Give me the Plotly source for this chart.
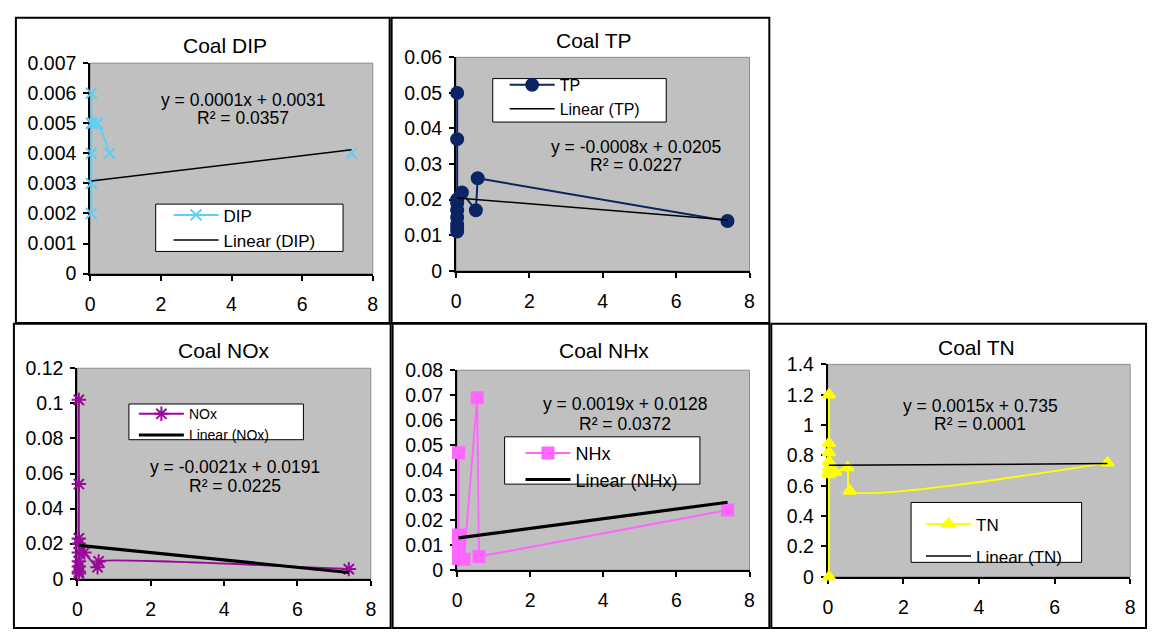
import plotly.graph_objects as go

# ---- data -------------------------------------------------------------
dip_x = [0.03, 0.03, 0.03, 0.03, 0.03, 0.07, 0.2, 0.55, None, 7.4]
dip_y = [0.006, 0.005, 0.004, 0.003, 0.002, 0.005, 0.005, 0.004, None, 0.004]

tp_x = [0.03, 0.03, 0.03, 0.03, 0.03, 0.03, 0.03, 0.03, 0.03, 0.03, 0.16, 0.54, 0.59, 7.4]
tp_y = [0.05, 0.037, 0.02, 0.019, 0.017, 0.015, 0.013, 0.012, 0.011, 0.02, 0.022, 0.017, 0.026, 0.014]

nox_x = [0.04, 0.04, 0.04, 0.04, 0.04, 0.04, 0.04, 0.04, 0.04, 0.19, 0.55, 0.58, 7.4]
nox_y = [0.102, 0.054, 0.003, 0.004, 0.007, 0.01, 0.015, 0.02, 0.023, 0.015, 0.0066, 0.0099, 0.0055]

nhx_x = [0.04, 0.04, 0.04, 0.04, 0.04, 0.04, 0.19, 0.55, 0.6, 7.4]
nhx_y = [0.047, 0.014, 0.011, 0.0085, 0.0066, 0.0046, 0.0043, 0.069, 0.0054, 0.024]

tn_x = [0.03, 0.03, 0.03, 0.03, 0.03, 0.03, 0.03, 0.03, 0.2, 0.52, 0.58, 7.4]
tn_y = [0, 1.2, 0.88, 0.82, 0.76, 0.72, 0.69, 0.675, 0.69, 0.72, 0.566, 0.751]

# linear trend coefficients (slope, intercept) and R²
trend_slope = [0.00014, -0.00084, -0.0021, 0.00194, 0.0015]
trend_intercept = [0.00308, 0.0205, 0.0191, 0.0128, 0.735]
trend_r2 = [0.0357, 0.0227, 0.0225, 0.0372, 0.0001]

series_names = ["DIP", "TP", "NOx", "NHx", "TN"]
y_max = [0.007, 0.06, 0.12, 0.08, 1.4]
y_step = [0.001, 0.01, 0.02, 0.01, 0.2]

# ---- page geometry (pixels) -------------------------------------------
W, H = 1156, 639
FONT = "Liberation Sans, Arial, sans-serif"


def fx(p):
    return p / W


def fy(p):
    return 1 - p / H


panels = [
    dict(frame=(11, 7, 388, 323), plot=(86, 54, 371, 272), title=(222, 36),
         eq=(240, 92, 111), legend_box=(152, 200, 341, 249), leg_pos=(165, 193),
         leg_font=17, leg_gap=0, smoothing=0.6,
         color="#5CCFF5", symbol="x-thin-open", msize=11, trend_w=1.5, smooth=True),
    dict(frame=(390, 7, 771, 323), plot=(455, 48, 751, 269), title=(594, 31),
         eq=(637, 141, 159), legend_box=(492, 70, 667, 115), leg_pos=(504, 59),
         leg_font=16, leg_gap=0, smoothing=0,
         color="#0B2463", symbol="circle", msize=12, trend_w=1.5, smooth=False),
    dict(frame=(9, 324, 389, 639), plot=(73, 370, 369, 588), title=(221, 352),
         eq=(232, 472, 492), legend_box=(125, 407, 301, 444), leg_pos=(130, 401),
         leg_font=14, leg_gap=0, smoothing=0.35,
         color="#9A0A9A", symbol="asterisk-open", msize=12, trend_w=3.2, smooth=True),
    dict(frame=(391, 324, 771, 639), plot=(456, 372, 751, 579), title=(604, 352),
         eq=(625, 407, 428), legend_box=(504, 441, 701, 490), leg_pos=(520, 439),
         leg_font=18, leg_gap=0, smoothing=0,
         color="#FF66FF", symbol="square", msize=11, trend_w=3.2, smooth=False),
    dict(frame=(773, 324, 1151, 639), plot=(830, 366, 1135, 586), title=(980, 349),
         eq=(984, 409, 428), legend_box=(914, 509, 1086, 571), leg_pos=(924, 513),
         leg_font=17, leg_gap=7, smoothing=0.6,
         color="#FFFF00", symbol="triangle-up", msize=11, trend_w=1.5, smooth=True),
]

series_x = [dip_x, tp_x, nox_x, nhx_x, tn_x]
series_y = [dip_y, tp_y, nox_y, nhx_y, tn_y]


def fmt(v):
    s = f"{abs(v):.4f}".rstrip("0").rstrip(".")
    return ("-" if v < 0 else "") + s


fig = go.Figure()
shapes = []
annotations = []
layout = {}

for i, (p, name) in enumerate(zip(panels, series_names)):
    k = "" if i == 0 else str(i + 1)
    xa, ya = f"x{k}", f"y{k}"
    leg = "legend" if i == 0 else f"legend{i + 1}"
    xs, ys = series_x[i], series_y[i]

    fig.add_trace(go.Scatter(
        x=xs, y=ys, name=name, mode="lines+markers", xaxis=xa, yaxis=ya,
        legend=leg, legendgroup=f"{name}-data", cliponaxis=False,
        connectgaps=False,
        line=dict(color=p["color"], width=2,
                  shape="spline" if p["smooth"] else "linear",
                  smoothing=p["smoothing"] if p["smooth"] else 1),
        marker=dict(symbol=p["symbol"], size=p["msize"], color=p["color"],
                    line=dict(color=p["color"], width=2)),
    ))

    valid_x = [v for v in xs if v is not None]
    x0, x1 = min(valid_x), max(valid_x)
    m, b = trend_slope[i], trend_intercept[i]
    fig.add_trace(go.Scatter(
        x=[x0, x1], y=[m * x0 + b, m * x1 + b], name=f"Linear ({name})",
        mode="lines", xaxis=xa, yaxis=ya, legend=leg,
        legendgroup=f"{name}-fit", cliponaxis=False,
        line=dict(color="black", width=p["trend_w"]),
    ))

    l, t, r, btm = p["plot"]
    axis_common = dict(showgrid=False, zeroline=False, showline=True,
                       linecolor="black", linewidth=2, ticks="outside",
                       ticklen=5, tickwidth=1.5, tickcolor="black",
                       tickfont=dict(family=FONT, size=19.5, color="black"),
                       layer="below traces", fixedrange=True)
    layout[f"xaxis{k}"] = dict(axis_common, domain=[fx(l), fx(r)], range=[0, 8],
                               dtick=2, tick0=0, anchor=ya, ticklabelstandoff=7)
    layout[f"yaxis{k}"] = dict(axis_common, domain=[fy(btm), fy(t)],
                               range=[0, y_max[i]], dtick=y_step[i], tick0=0,
                               anchor=xa, ticklabelstandoff=3)

    # grey plot-area outline
    shapes.append(dict(type="rect", xref="paper", yref="paper", layer="below",
                       x0=fx(l), x1=fx(r), y0=fy(btm), y1=fy(t),
                       line=dict(color="#8C8C8C", width=1)))
    # chart frame
    fl, ft, fr, fb = p["frame"]
    shapes.append(dict(type="rect", xref="paper", yref="paper", layer="above",
                       x0=fx(fl), x1=fx(fr), y0=fy(fb), y1=fy(ft),
                       line=dict(color="black", width=2)))
    # legend box
    bl, bt, br, bb = p["legend_box"]
    shapes.append(dict(type="rect", xref="paper", yref="paper", layer="above",
                       x0=fx(bl), x1=fx(br), y0=fy(bb), y1=fy(bt),
                       fillcolor="white", line=dict(color="black", width=1)))

    lx, ly = p["leg_pos"]
    layout[leg] = dict(x=fx(lx), y=fy(ly), xanchor="left", yanchor="top",
                       bgcolor="rgba(0,0,0,0)", borderwidth=0, itemwidth=45,
                       tracegroupgap=p["leg_gap"],
                       font=dict(family=FONT, size=p["leg_font"], color="black"))

    tx, ty = p["title"]
    annotations.append(dict(xref="paper", yref="paper", x=fx(tx), y=fy(ty),
                            text=f"Coal {name}", showarrow=False,
                            xanchor="center", yanchor="middle",
                            font=dict(family=FONT, size=21, color="black")))
    ex, ey1, ey2 = p["eq"]
    eq_lines = [f"y = {fmt(m)}x + {fmt(b)}", f"R² = {trend_r2[i]:.4f}"]
    for txt, ey in zip(eq_lines, (ey1, ey2)):
        annotations.append(dict(xref="paper", yref="paper", x=fx(ex), y=fy(ey),
                                text=txt, showarrow=False,
                                xanchor="center", yanchor="middle",
                                font=dict(family=FONT, size=17.5, color="black")))

fig.update_layout(
    width=W, height=H, margin=dict(l=0, r=0, t=0, b=0),
    paper_bgcolor="white", plot_bgcolor="#C0C0C0", showlegend=True,
    shapes=shapes, annotations=annotations, **layout,
)

fig.write_html("out.html", config={"displayModeBar": False})
